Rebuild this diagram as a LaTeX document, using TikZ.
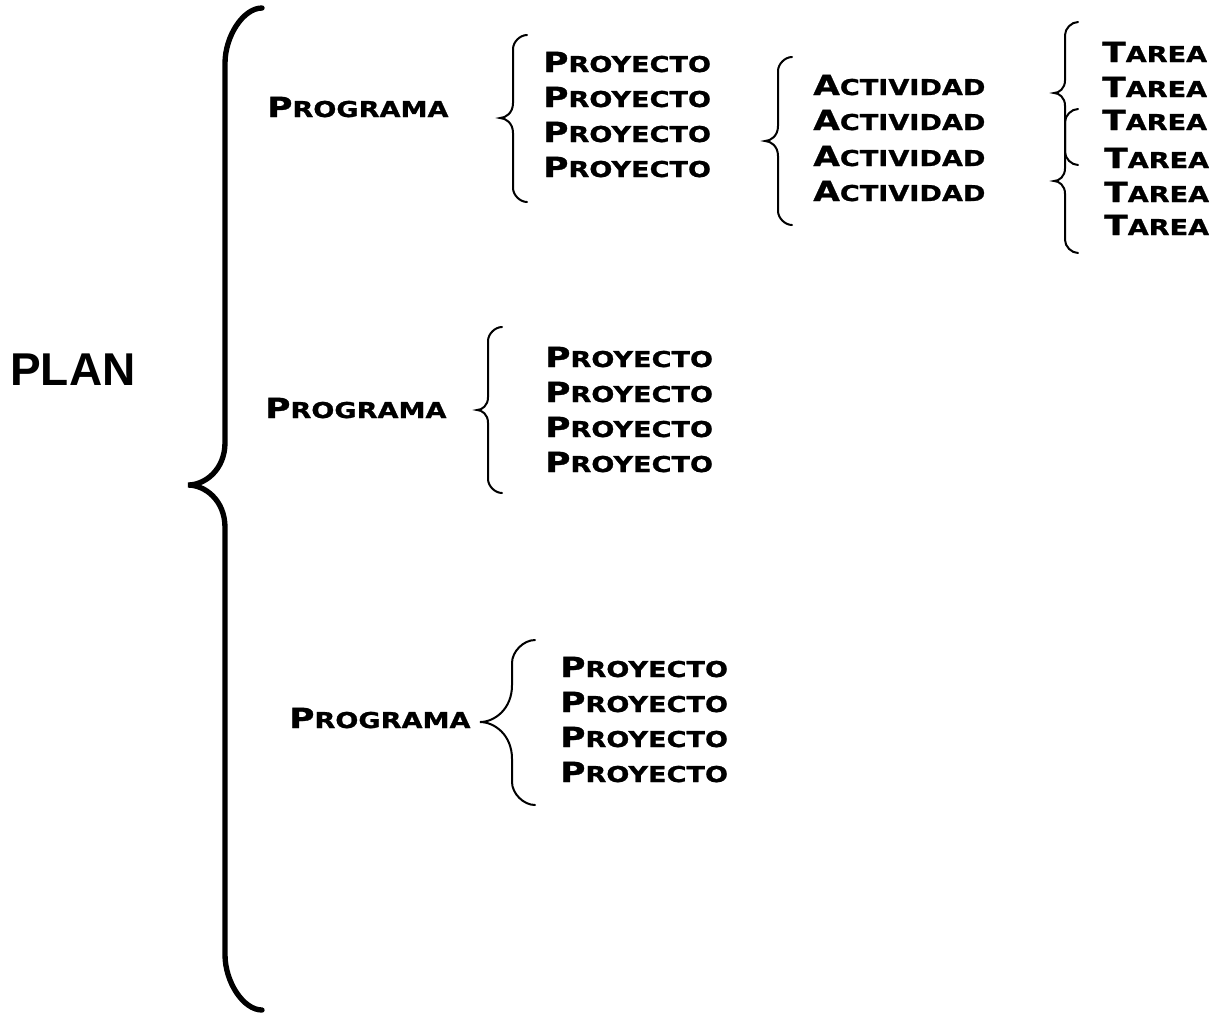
\documentclass[tikz,border=0pt]{standalone}
\usepackage{fontspec}
\setmainfont{Liberation Sans}
\newfontfamily\cgfont{DejaVu Sans Bold}[FakeStretch=1.24,FakeBold=1]
\newfontfamily\planfont{Liberation Sans Bold}
\newcommand\cgsc[2]{{\fontsize{20.8}{24}\selectfont #1}{\fontsize{16.4}{18}\selectfont #2}}
\newcommand\mkbrace[8]{% style, xe, xv, xt, yt, ym, yb, end-curve factor
  \pgfmathsetmacro\brR{#8*(#2-#3)}%
  \pgfmathsetmacro\brT{1.15*(#3-#4)}%
  \draw[#1] (#2,#5) .. controls ({#3+0.5*(#2-#3)},#5) and (#3,{#5+0.5*\brR}) .. (#3,{#5+\brR})
    -- (#3,{#6-\brT}) .. controls (#3,{#6-0.35*\brT}) and ({#4+0.45*(#3-#4)},#6) .. (#4,#6)
    .. controls ({#4+0.45*(#3-#4)},#6) and (#3,{#6+0.35*\brT}) .. (#3,{#6+\brT})
    -- (#3,{#7-\brR}) .. controls (#3,{#7-0.5*\brR}) and ({#3+0.5*(#2-#3)},#7) .. (#2,#7);}
\tikzset{
  lbl/.style={anchor=base west, inner sep=0pt, font=\cgfont},
  smallbr/.style={line width=1.5pt, line cap=round},
  bigbr/.style={line width=4pt, line cap=round}
}
\begin{document}
\begin{tikzpicture}[x=0.75pt, y=-0.75pt]
\useasboundingbox (0,0) rectangle (1212,1015);

% PLAN
\node[anchor=base west, inner sep=0pt, font=\planfont\fontsize{34.5}{40}\selectfont] (plan) at (10,385) {PLAN};
\mkbrace{bigbr}{262}{225}{188}{8}{485}{1010}{1.5}

% Program 1
\node[lbl] (prog1) at (267,117) {\cgsc{P}{ROGRAMA}};
\mkbrace{smallbr}{527}{513}{500}{35}{118}{202}{1}
\node[lbl] (p11) at (543,72) {\cgsc{P}{ROYECTO}};
\node[lbl] (p12) at (543,107) {\cgsc{P}{ROYECTO}};
\node[lbl] (p13) at (543,142) {\cgsc{P}{ROYECTO}};
\node[lbl] (p14) at (543,177) {\cgsc{P}{ROYECTO}};

\mkbrace{smallbr}{792}{778}{765}{57}{141}{225}{1}
\node[lbl] (a1) at (813,95) {\cgsc{A}{CTIVIDAD}};
\node[lbl] (a2) at (813,130) {\cgsc{A}{CTIVIDAD}};
\node[lbl] (a3) at (813,166) {\cgsc{A}{CTIVIDAD}};
\node[lbl] (a4) at (813,201) {\cgsc{A}{CTIVIDAD}};

\mkbrace{smallbr}{1078}{1065}{1054}{22}{93}{165}{1}
\mkbrace{smallbr}{1078}{1065}{1054}{109}{181}{253}{1}
\node[lbl] (t1) at (1102,62) {\cgsc{T}{AREA}};
\node[lbl] (t2) at (1102,97) {\cgsc{T}{AREA}};
\node[lbl] (t3) at (1102,130) {\cgsc{T}{AREA}};
\node[lbl] (t4) at (1104,168) {\cgsc{T}{AREA}};
\node[lbl] (t5) at (1104,202) {\cgsc{T}{AREA}};
\node[lbl] (t6) at (1104,235) {\cgsc{T}{AREA}};

% Program 2
\node[lbl] (prog2) at (265,418) {\cgsc{P}{ROGRAMA}};
\mkbrace{smallbr}{502}{488}{477}{327}{410}{493}{1}
\node[lbl] (p21) at (545,367) {\cgsc{P}{ROYECTO}};
\node[lbl] (p22) at (545,402) {\cgsc{P}{ROYECTO}};
\node[lbl] (p23) at (545,437) {\cgsc{P}{ROYECTO}};
\node[lbl] (p24) at (545,472) {\cgsc{P}{ROYECTO}};

% Program 3
\node[lbl] (prog3) at (289,728) {\cgsc{P}{ROGRAMA}};
\mkbrace{smallbr}{535}{512}{480}{640}{722}{805}{1}
\node[lbl] (p31) at (560,677) {\cgsc{P}{ROYECTO}};
\node[lbl] (p32) at (560,712) {\cgsc{P}{ROYECTO}};
\node[lbl] (p33) at (560,747) {\cgsc{P}{ROYECTO}};
\node[lbl] (p34) at (560,782) {\cgsc{P}{ROYECTO}};
\end{tikzpicture}
\end{document}
